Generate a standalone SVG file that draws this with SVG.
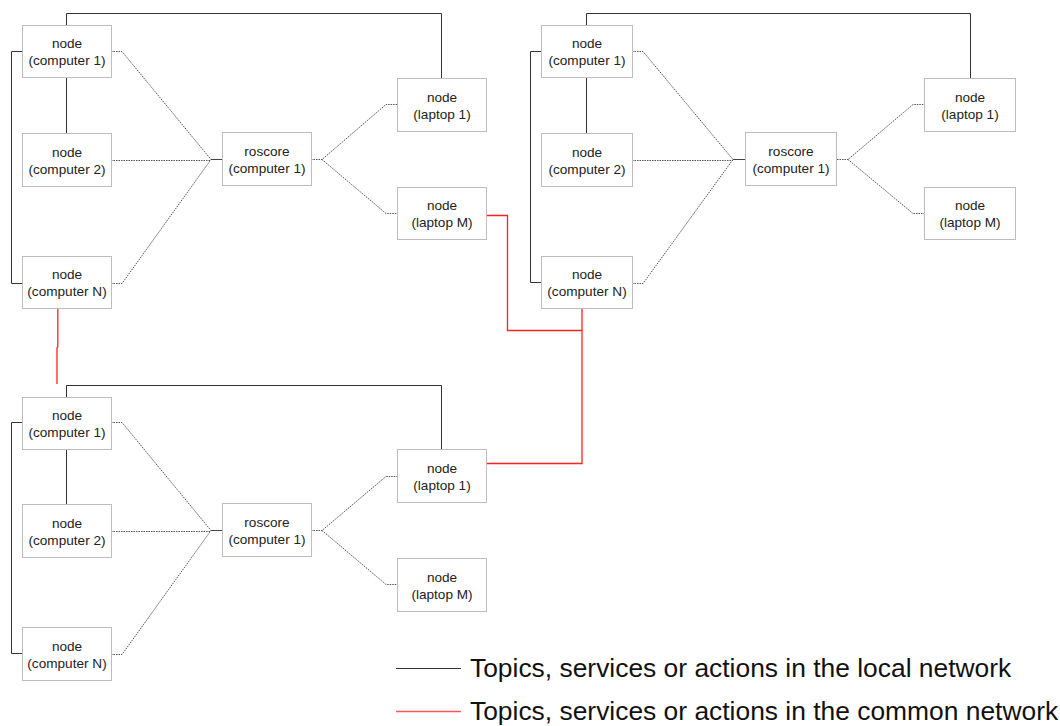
<svg xmlns="http://www.w3.org/2000/svg" width="1060" height="726" viewBox="0 0 1060 726">
<style>
.box{fill:#fff;stroke:#bdbdbd;stroke-width:1}
.t{font-family:"Liberation Sans",Arial,sans-serif;font-size:13.6px;fill:#222;text-anchor:middle}
.loc{fill:none;stroke:#333;stroke-width:1}
.fan{fill:none;stroke:#555;stroke-width:1;stroke-dasharray:1.5 1}
.sol{fill:none;stroke:#444;stroke-width:1}
.red{fill:none;stroke:#f22;stroke-width:1.3}
.leg{font-family:"Liberation Sans",Arial,sans-serif;font-size:26.4px;fill:#111}
</style>
<rect width="1060" height="726" fill="#fff"/>
<g id="connectors">
<path class="loc" d="M66.5,25 V13.5 H441.5 V78"/>
<path class="loc" d="M22,51.5 H11.5 V283.5 H22"/>
<path class="loc" d="M66.5,77 V133" stroke="#666"/>
<path class="loc" d="M586.5,25 V13.5 H970.5 V78"/>
<path class="loc" d="M541,51.5 H530.5 V282.5 H541"/>
<path class="loc" d="M586.5,77 V133" stroke="#999"/>
<path class="loc" d="M66.5,397 V385.5 H441.5 V449"/>
<path class="loc" d="M22,422.5 H11.5 V653.5 H22"/>
<path class="loc" d="M66.5,449 V504" stroke="#666"/>
<path class="fan" d="M111,51.5 H122 L211,159.5"/>
<path class="fan" d="M111,160.5 H211"/>
<path class="fan" d="M111,283.5 H122 L211,159.5"/>
<path class="sol" d="M211,159.5 H222"/>
<path class="fan" d="M311,159.5 H322 L386,104.5 H397"/>
<path class="fan" d="M322,159.5 L386,213.5 H397"/>
<path class="fan" d="M632,51.5 H643 L733,159.5"/>
<path class="fan" d="M632,160.5 H733"/>
<path class="fan" d="M632,283.5 H643 L733,159.5"/>
<path class="sol" d="M733,159.5 H746"/>
<path class="fan" d="M837,159.5 H848 L913,104.5 H924"/>
<path class="fan" d="M848,159.5 L913,213.5 H924"/>
<path class="fan" d="M111,422.5 H122 L211,530.5"/>
<path class="fan" d="M111,531.5 H211"/>
<path class="fan" d="M111,654.5 H122 L211,530.5"/>
<path class="sol" d="M211,530.5 H222"/>
<path class="fan" d="M311,530.5 H322 L386,476.5 H397"/>
<path class="fan" d="M322,530.5 L386,584.5 H397"/>
<path class="red" d="M486,215.5 H507.5 V330.5 H582"/>
<path class="red" d="M582,309 V463.5 H486"/>
<path class="red" d="M57.8,309 V347 L57,348 V384"/>
</g>
<g id="A-c1"><rect class="box" x="22.5" y="25.5" width="89" height="52"/><text class="t" x="67" y="47.5">node</text><text class="t" x="67" y="64.5">(computer 1)</text></g>
<g id="A-c2"><rect class="box" x="22.5" y="133.5" width="89" height="53"/><text class="t" x="67" y="156.5">node</text><text class="t" x="67" y="173.5">(computer 2)</text></g>
<g id="A-cN"><rect class="box" x="22.5" y="256.5" width="89" height="52"/><text class="t" x="67" y="278.5">node</text><text class="t" x="67" y="295.5">(computer N)</text></g>
<g id="A-ros"><rect class="box" x="222.5" y="132.5" width="89" height="53"/><text class="t" x="267" y="155.5">roscore</text><text class="t" x="267" y="172.5">(computer 1)</text></g>
<g id="A-l1"><rect class="box" x="397.5" y="78.5" width="89" height="53"/><text class="t" x="442" y="101.5">node</text><text class="t" x="442" y="118.5">(laptop 1)</text></g>
<g id="A-lM"><rect class="box" x="397.5" y="187.5" width="89" height="52"/><text class="t" x="442" y="209.5">node</text><text class="t" x="442" y="226.5">(laptop M)</text></g>
<g id="B-c1"><rect class="box" x="541.5" y="25.5" width="91" height="52"/><text class="t" x="587" y="47.5">node</text><text class="t" x="587" y="64.5">(computer 1)</text></g>
<g id="B-c2"><rect class="box" x="541.5" y="133.5" width="91" height="53"/><text class="t" x="587" y="156.5">node</text><text class="t" x="587" y="173.5">(computer 2)</text></g>
<g id="B-cN"><rect class="box" x="541.5" y="256.5" width="91" height="52"/><text class="t" x="587" y="278.5">node</text><text class="t" x="587" y="295.5">(computer N)</text></g>
<g id="B-ros"><rect class="box" x="745.5" y="132.5" width="91" height="53"/><text class="t" x="791" y="155.5">roscore</text><text class="t" x="791" y="172.5">(computer 1)</text></g>
<g id="B-l1"><rect class="box" x="924.5" y="78.5" width="91" height="53"/><text class="t" x="970" y="101.5">node</text><text class="t" x="970" y="118.5">(laptop 1)</text></g>
<g id="B-lM"><rect class="box" x="924.5" y="187.5" width="91" height="52"/><text class="t" x="970" y="209.5">node</text><text class="t" x="970" y="226.5">(laptop M)</text></g>
<g id="C-c1"><rect class="box" x="22.5" y="397.5" width="89" height="52"/><text class="t" x="67" y="419.5">node</text><text class="t" x="67" y="436.5">(computer 1)</text></g>
<g id="C-c2"><rect class="box" x="22.5" y="504.5" width="89" height="53"/><text class="t" x="67" y="527.5">node</text><text class="t" x="67" y="544.5">(computer 2)</text></g>
<g id="C-cN"><rect class="box" x="22.5" y="627.5" width="89" height="53"/><text class="t" x="67" y="650.5">node</text><text class="t" x="67" y="667.5">(computer N)</text></g>
<g id="C-ros"><rect class="box" x="222.5" y="503.5" width="89" height="53"/><text class="t" x="267" y="526.5">roscore</text><text class="t" x="267" y="543.5">(computer 1)</text></g>
<g id="C-l1"><rect class="box" x="397.5" y="449.5" width="89" height="53"/><text class="t" x="442" y="472.5">node</text><text class="t" x="442" y="489.5">(laptop 1)</text></g>
<g id="C-lM"><rect class="box" x="397.5" y="558.5" width="89" height="53"/><text class="t" x="442" y="581.5">node</text><text class="t" x="442" y="598.5">(laptop M)</text></g>
<g id="legend">
<line x1="396" y1="668.5" x2="461" y2="668.5" stroke="#333" stroke-width="1"/>
<line x1="396" y1="711.5" x2="461" y2="711.5" stroke="#f55" stroke-width="1.3"/>
<text class="leg" x="470" y="677">Topics, services or actions in the local network</text>
<text class="leg" x="470" y="720">Topics, services or actions in the common network</text>
</g>
</svg>
